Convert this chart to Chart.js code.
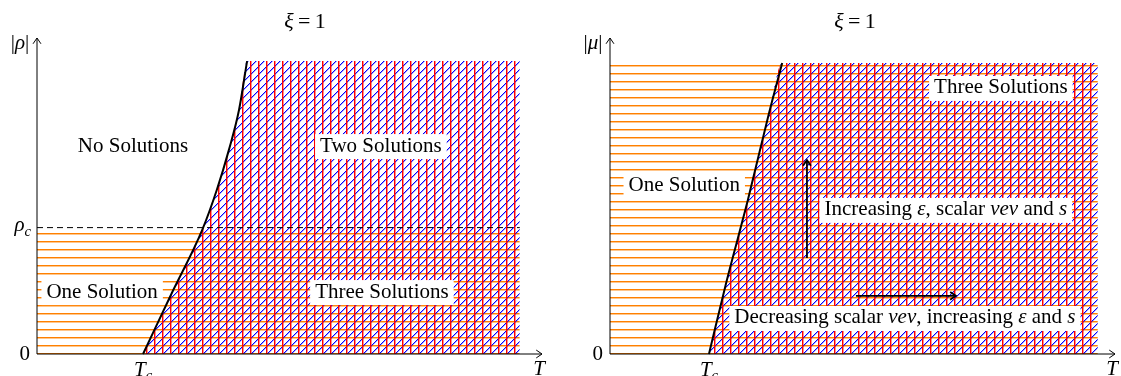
<!DOCTYPE html>
<html>
<head>
<meta charset="utf-8">
<script src="https://cdn.jsdelivr.net/npm/chart.js@4.4.1/dist/chart.umd.min.js"></script>
<style>
  body { margin: 0; background: #fff; }
  #wrap { position: relative; width: 1121px; height: 376px; overflow: hidden; }
  #leftBox { position: absolute; left: 0; top: 0; width: 560px; height: 376px; }
  #rightBox { position: absolute; left: 560px; top: 0; width: 561px; height: 376px; }
</style>
</head>
<body>
<div id="wrap">
  <div id="leftBox"><canvas id="leftChart" width="560" height="376"></canvas></div>
  <div id="rightBox"><canvas id="rightChart" width="561" height="376"></canvas></div>
</div>
<script>
// left panel: |rho| against T
let leftCurveT = [0.21, 0.267, 0.327, 0.356, 0.380, 0.400, 0.416];
let leftCurveRho = [0, 0.193, 0.392, 0.519, 0.646, 0.772, 0.927];
let leftTmax = 0.956;
let leftTop = 0.927;
let rhoC = 0.40;
let leftTc = 0.21;

// right panel: |mu| against T
let rightCurveT = [0.196, 0.230, 0.273, 0.313, 0.341];
let rightCurveMu = [0, 0.225, 0.487, 0.75, 0.921];
let rightTmax = 0.966;
let rightTop = 0.921;
let rightTc = 0.196;

// text labels
let leftLabels = [
    { x: 0.19, y: 0.658, box: false, parts: [{ t: "No Solutions" }] },
    { x: 0.681, y: 0.658, box: true, parts: [{ t: "Two Solutions" }] },
    { x: 0.129, y: 0.196, box: true, parts: [{ t: "One Solution" }] },
    { x: 0.683, y: 0.196, box: true, parts: [{ t: "Three Solutions" }] }
];
let rightLabels = [
    { x: 0.774, y: 0.842, box: true, parts: [{ t: "Three Solutions" }] },
    { x: 0.147, y: 0.532, box: true, parts: [{ t: "One Solution" }] },
    { x: 0.665, y: 0.456, box: true, parts: [{ t: "Increasing " }, { t: "ε", it: true }, { t: ", scalar " }, { t: "vev", it: true }, { t: " and " }, { t: "s", it: true }] },
    { x: 0.584, y: 0.114, box: true, parts: [{ t: "Decreasing scalar " }, { t: "vev", it: true }, { t: ", increasing " }, { t: "ε", it: true }, { t: " and " }, { t: "s", it: true }] }
];
// arrows [x0, y0, x1, y1]
let rightArrows = [
    [0.390, 0.304, 0.390, 0.614],
    [0.487, 0.184, 0.685, 0.184]
];

const SERIF = '"Liberation Serif", "DejaVu Serif", serif';
const FS = 21;

function makePattern(drawTile) {
    let c = document.createElement("canvas");
    c.width = 8;
    c.height = 8;
    let g = c.getContext("2d");
    drawTile(g);
    return g.createPattern(c, "repeat");
}

let orangeLines = makePattern(g => {
    g.fillStyle = "#ff8000";
    g.fillRect(0, 1, 8, 1);
    g.fillStyle = "rgba(255,128,0,0.45)";
    g.fillRect(0, 2, 8, 1);
});

let redBlueLines = makePattern(g => {
    // north east lines, pixel staircase through (x + y) % 8 == 4
    g.fillStyle = "#0000ff";
    for (let x = 0; x < 8; x++) {
        let y = ((4 - x) % 8 + 8) % 8;
        g.fillRect(x, y, 1, 1);
    }
    g.fillStyle = "rgba(0,0,255,0.35)";
    for (let x = 0; x < 8; x++) {
        let y = ((5 - x) % 8 + 8) % 8;
        g.fillRect(x, y, 1, 1);
    }
    g.fillStyle = "#ff0000";
    g.fillRect(2, 0, 1, 8);
    g.fillStyle = "rgba(255,0,0,0.45)";
    g.fillRect(3, 0, 1, 8);
});

function pts(xs, ys) {
    return xs.map((x, i) => ({ x: x, y: ys[i] }));
}

function drawRich(ctx, parts, x, y, align, size) {
    size = size || FS;
    let w = 0;
    parts.forEach(p => {
        let s = p.sub ? size * 0.7 : size;
        ctx.font = (p.it ? "italic " : "") + s + "px " + SERIF;
        p.w = ctx.measureText(p.t).width;
        w += p.w;
    });
    let cx = x;
    if (align === "center") cx = x - w / 2;
    if (align === "right") cx = x - w;
    ctx.textBaseline = "middle";
    ctx.textAlign = "left";
    parts.forEach(p => {
        let s = p.sub ? size * 0.7 : size;
        ctx.font = (p.it ? "italic " : "") + s + "px " + SERIF;
        ctx.fillText(p.t, cx, p.sub ? y + size * 0.3 : y);
        cx += p.w;
    });
    return w;
}

function measureRich(ctx, parts, size) {
    size = size || FS;
    let w = 0;
    parts.forEach(p => {
        let s = p.sub ? size * 0.7 : size;
        ctx.font = (p.it ? "italic " : "") + s + "px " + SERIF;
        w += ctx.measureText(p.t).width;
    });
    return w;
}

function arrowHead(ctx, x0, y0, x1, y1) {
    let a = Math.atan2(y1 - y0, x1 - x0);
    let len = 7;
    ctx.beginPath();
    ctx.moveTo(x1 - len * Math.cos(a - 0.6), y1 - len * Math.sin(a - 0.6));
    ctx.lineTo(x1, y1);
    ctx.lineTo(x1 - len * Math.cos(a + 0.6), y1 - len * Math.sin(a + 0.6));
    ctx.stroke();
}

const annotPlugin = {
    id: "annot",
    afterDatasetsDraw(chart, args, opts) {
        let ctx = chart.ctx;
        let xs = chart.scales.x, ys = chart.scales.y;
        let ox = xs.getPixelForValue(0), oy = ys.getPixelForValue(0);
        ctx.save();
        ctx.fillStyle = "#000";
        ctx.strokeStyle = "#000";
        ctx.lineWidth = 1;

        // axis arrow heads
        arrowHead(ctx, ox, oy, xs.getPixelForValue(1), oy);
        arrowHead(ctx, ox, oy, ox, ys.getPixelForValue(1));

        // extra arrows
        ctx.lineWidth = 1.8;
        (opts.arrows || []).forEach(a => {
            let x0 = xs.getPixelForValue(a[0]), y0 = ys.getPixelForValue(a[1]);
            let x1 = xs.getPixelForValue(a[2]), y1 = ys.getPixelForValue(a[3]);
            ctx.beginPath();
            ctx.moveTo(x0, y0);
            ctx.lineTo(x1, y1);
            ctx.stroke();
            arrowHead(ctx, x0, y0, x1, y1);
        });

        // region labels
        opts.labels.forEach(l => {
            let px = xs.getPixelForValue(l.x), py = ys.getPixelForValue(l.y);
            let w = measureRich(ctx, l.parts);
            if (l.box) {
                ctx.fillStyle = "#fff";
                ctx.fillRect(px - w / 2 - 5, py - 12, w + 10, 25);
            }
            ctx.fillStyle = "#000";
            drawRich(ctx, l.parts, px, py, "center");
        });

        // ticks
        drawRich(ctx, [{ t: "0" }], ox - 7, oy, "right");
        (opts.yTicks || []).forEach(t => {
            drawRich(ctx, t.parts, ox - 6, ys.getPixelForValue(t.v) - 2, "right");
        });
        (opts.xTicks || []).forEach(t => {
            drawRich(ctx, t.parts, xs.getPixelForValue(t.v), oy + 16, "center");
        });
        drawRich(ctx, opts.xName, xs.getPixelForValue(1) - 3, oy + 15, "center");
        drawRich(ctx, opts.yName, ox - 17, ys.getPixelForValue(1) + 5, "center");

        // title
        drawRich(ctx, [{ t: "ξ", it: true }, { t: "\u2009=\u20091" }], opts.titleX, 22, "center", 22);
        ctx.restore();
    }
};

function panel(canvasId, pad, curve, tMax, top, lowBand, dashY, opts) {
    let datasets = [];
    // orange horizontal hatch
    datasets.push({
        data: [{ x: 0, y: lowBand }, { x: tMax, y: lowBand }],
        showLine: true, borderWidth: 0, pointRadius: 0,
        fill: "origin", backgroundColor: orangeLines, order: 6
    });
    // red / blue hatch right of the curve
    datasets.push({
        data: curve.concat([{ x: tMax, y: top }]),
        showLine: true, borderWidth: 0, pointRadius: 0, cubicInterpolationMode: "monotone",
        fill: "origin", backgroundColor: redBlueLines, order: 5
    });
    if (dashY !== null) {
        datasets.push({
            data: [{ x: 0, y: dashY }, { x: tMax, y: dashY }],
            showLine: true, borderColor: "#000", borderWidth: 1, borderDash: [6, 4],
            pointRadius: 0, fill: false, order: 4
        });
    }
    // axes
    datasets.push({
        data: [{ x: 1, y: 0 }, { x: 0, y: 0 }, { x: 0, y: 1 }],
        showLine: true, borderColor: "#000", borderWidth: 1, pointRadius: 0,
        fill: false, order: 3
    });
    // boundary curve
    datasets.push({
        data: curve,
        showLine: true, borderColor: "#000", borderWidth: 2, pointRadius: 0,
        cubicInterpolationMode: "monotone", fill: false, order: 2
    });

    return new Chart(document.getElementById(canvasId), {
        type: "scatter",
        data: { datasets: datasets },
        options: {
            responsive: false,
            animation: false,
            events: [],
            clip: false,
            layout: { padding: pad },
            scales: {
                x: { type: "linear", min: 0, max: 1, display: false },
                y: { type: "linear", min: 0, max: 1, display: false }
            },
            plugins: {
                legend: { display: false },
                tooltip: { enabled: false },
                annot: opts
            }
        },
        plugins: [annotPlugin]
    });
}

panel("leftChart", { left: 37, right: 18, top: 38, bottom: 22 },
    pts(leftCurveT, leftCurveRho), leftTmax, leftTop, rhoC, rhoC, {
        labels: leftLabels,
        arrows: [],
        titleX: 305,
        yTicks: [{ v: rhoC, parts: [{ t: "ρ", it: true }, { t: "c", it: true, sub: true }] }],
        xTicks: [{ v: leftTc, parts: [{ t: "T", it: true }, { t: "c", it: true, sub: true }] }],
        xName: [{ t: "T", it: true }],
        yName: [{ t: "|" }, { t: "ρ", it: true }, { t: "|" }]
    });

panel("rightChart", { left: 50, right: 6, top: 38, bottom: 22 },
    pts(rightCurveT, rightCurveMu), rightTmax, rightTop, rightTop, null, {
        labels: rightLabels,
        arrows: rightArrows,
        titleX: 295,
        yTicks: [],
        xTicks: [{ v: rightTc, parts: [{ t: "T", it: true }, { t: "c", it: true, sub: true }] }],
        xName: [{ t: "T", it: true }],
        yName: [{ t: "|" }, { t: "μ", it: true }, { t: "|" }]
    });
</script>
</body>
</html>
